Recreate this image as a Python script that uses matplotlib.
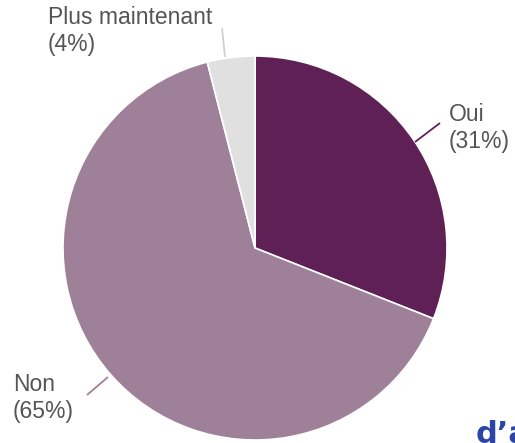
import matplotlib
matplotlib.use("Agg")
import matplotlib.pyplot as plt

# survey answers, clockwise from 12 o'clock
labels = ["Oui", "Non", "Plus maintenant"]
shares = [31, 65, 4]
colors = ["#5f2155", "#9e8098", "#e0e0e0"]
line_colors = ["#5f2155", "#9e8098", "#d0d0d0"]

W, H = 515, 443
fig = plt.figure(figsize=(W / 100, H / 100), dpi=100)
ax = fig.add_axes([0, 0, 1, 1])
ax.set_xlim(0, W)
ax.set_ylim(0, H)
ax.set_aspect("equal")
ax.axis("off")

cx, cy, r = 255, H - 248, 192
ax.pie(shares, colors=colors, startangle=90, counterclock=False,
       center=(cx, cy), radius=r, frame=True,
       wedgeprops=dict(edgecolor="white", linewidth=1.2))
ax.set_xlim(0, W)
ax.set_ylim(0, H)
ax.axis("off")

# leader lines and labels (pixel positions, y from top)
leaders = [((415, 142), (440, 123)), ((108, 377), (87, 395)), ((225, 57), (222, 28))]
text_pos = [(449, 128), (13, 398), (48, 31)]
txt = "#555555"
for lab, s, (p0, p1), (tx, ty), lc in zip(labels, shares, leaders, text_pos, line_colors):
    ax.plot([p0[0], p1[0]], [H - p0[1], H - p1[1]], color=lc, lw=1.3,
            solid_capstyle="butt")
    ax.text(tx, H - ty, f"{lab}\n({s}%)", fontsize=16.5, color=txt,
            family="Liberation Sans", va="center", ha="left", linespacing=1.2)

# cut-off heading fragment at the bottom right
ax.text(476, H - 420, "d\u2019a", fontsize=22, fontweight="bold", color="#2b46a8",
        family="DejaVu Sans", va="top", ha="left", clip_on=False)

fig.savefig("out.png", dpi=100)
